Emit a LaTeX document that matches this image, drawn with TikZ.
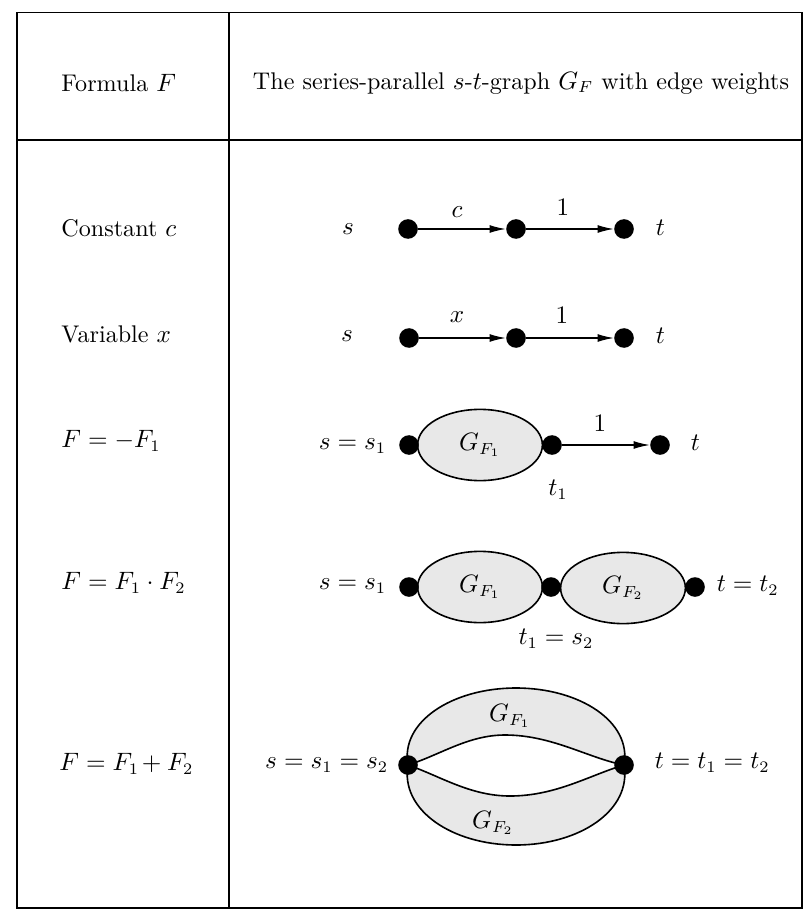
\documentclass[tikz,border=0pt]{standalone}
\usepackage{amsmath}
\usepackage{tikz}
\usetikzlibrary{
	arrows.meta,
	positioning,
	shapes.geometric
}

\begin{document}
\begin{tikzpicture}[
		x=0.0153cm, y=-0.0153cm,
		font=\fontsize{10.5}{12.6}\selectfont,
		tab/.style={line width=0.8pt},
		rot/.style={inner sep=1pt},
		linha/.style={anchor=west, inner sep=0pt},
		ponto/.style={circle, fill=black, inner sep=0pt, minimum size=0.3cm},
		grafo/.style={draw, line width=0.7pt, fill=black!9},
		elip/.style={grafo, ellipse, inner sep=0pt, minimum width=1.91cm, minimum height=1.09cm},
		>={Latex[length=7pt,width=3.4pt]},
		fl/.style={->, line width=0.55pt}
	]

	\useasboundingbox (0,0) rectangle (806,915);

	% tabela
	\draw[tab] (17,12.5) rectangle (802,908);
	\draw[tab] (17,140) -- (802,140);
	\draw[tab] (229,12.5) -- (229,908);

	\node[linha] (cab1) at (61,83) {Formula $F$};
	\node (cab2) at (521,83) {The series-parallel $s$-$t$-graph $G_F$ with edge weights};

	\node[linha] (f1) at (61,228) {Constant $c$};
	\node[linha] (f2) at (61,334) {Variable $x$};
	\node[linha] (f3) at (61,441) {$F=-F_1$};
	\node[linha] (f4) at (61,583) {$F=F_1\cdot F_2$};
	\node[linha] (f5) at (59,764) {$F=F_1\mkern-2mu+F_2$};

	% constante
	\node[ponto] (c1) at (408,229) {};
	\node[ponto] (c2) at (516,229) {};
	\node[ponto] (c3) at (624,229) {};
	\node[rot] (cs) at (348,229) {$s$};
	\node[rot, anchor=west] (ct) at (653,228) {$t$};
	\draw[fl] (c1) -- (c2);
	\draw[fl] (c2) -- (c3);
	\node[rot] (cw1) at (457,212) {$c$};
	\node[rot] (cw2) at (563,207) {$1$};

	% variavel
	\node[ponto] (v1) at (409,338) {};
	\node[ponto] (v2) at (516,338) {};
	\node[ponto] (v3) at (624,338) {};
	\node[rot] (vs) at (347,336) {$s$};
	\node[rot, anchor=west] (vt) at (653,336) {$t$};
	\draw[fl] (v1) -- (v2);
	\draw[fl] (v2) -- (v3);
	\node[rot] (vw1) at (457,317) {$x$};
	\node[rot] (vw2) at (562,315) {$1$};

	% negacao
	\node[elip] (ng) at (480,445) {$G_{F_1}$};
	\node[ponto] (n1) at (409,445) {};
	\node[ponto] (n2) at (552,445) {};
	\node[ponto] (n3) at (660,445) {};
	\node[rot, anchor=east] (ns) at (389,446) {$s=s_1$};
	\node[rot, anchor=west] (nt) at (688,443) {$t$};
	\node[rot] (nt1) at (558,490) {$t_1$};
	\draw[fl] (n2) -- (n3);
	\node[rot] (nw) at (600,423) {$1$};

	% produto
	\node[elip] (pg1) at (480,587) {$G_{F_1}$};
	\node[elip] (pg2) at (623,588) {$G_{F_2}$};
	\node[ponto] (p1) at (409,587) {};
	\node[ponto] (p2) at (551,587) {};
	\node[ponto] (p3) at (695,587) {};
	\node[rot, anchor=east] (ps) at (389,586) {$s=s_1$};
	\node[rot, anchor=west] (pt) at (714,586) {$t=t_2$};
	\node[rot] (pm) at (556,639) {$t_1=s_2$};

	% soma
	\coordinate (a1) at (408,765);
	\coordinate (a2) at (624,765);
	\draw[grafo] (a1) .. controls (400,722) and (452,688) .. (516,688)
		.. controls (580,688) and (632,722) .. (a2)
		.. controls (588,758) and (552,735) .. (505,735)
		.. controls (468,735) and (440,755) .. (a1) -- cycle;
	\draw[grafo] (a1) .. controls (400,810) and (452,845) .. (516,845)
		.. controls (580,845) and (632,810) .. (a2)
		.. controls (590,775) and (556,796) .. (510,796)
		.. controls (470,796) and (440,776) .. (a1) -- cycle;
	\node[ponto] (s1) at (a1) {};
	\node[ponto] (s2) at (a2) {};
	\node[rot] (sg1) at (510,716) {$G_{F_1}$};
	\node[rot] (sg2) at (493,823) {$G_{F_2}$};
	\node[rot, anchor=east] (ss) at (391,765) {$s=s_1=s_2$};
	\node[rot, anchor=west] (st) at (652,763) {$t=t_1=t_2$};
\end{tikzpicture}
\end{document}
